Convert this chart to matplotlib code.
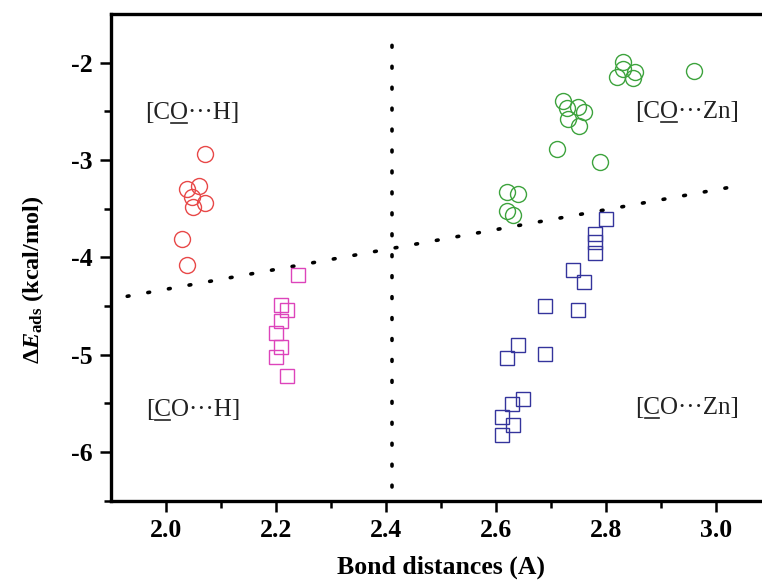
import numpy as np
import matplotlib.pyplot as plt
from matplotlib.lines import Line2D

plt.rcParams['font.family'] = 'Liberation Serif'
plt.rcParams['mathtext.fontset'] = 'custom'
plt.rcParams['mathtext.rm'] = 'Liberation Serif:bold'
plt.rcParams['mathtext.bf'] = 'Liberation Serif:bold'
plt.rcParams['mathtext.it'] = 'Liberation Serif:italic:bold'

# [CO...H], O bonded (red circles)
oh_x = [2.071, 2.038, 2.060, 2.048, 2.071, 2.050, 2.030, 2.039]
oh_y = [-2.94, -3.30, -3.27, -3.38, -3.44, -3.48, -3.81, -4.08]

# [CO...H], C bonded (magenta squares)
ch_x = [2.240, 2.210, 2.221, 2.210, 2.200, 2.210, 2.200, 2.221]
ch_y = [-4.18, -4.49, -4.54, -4.65, -4.78, -4.92, -5.02, -5.22]

# [CO...Zn], O bonded (green circles)
ozn_x = [2.831, 2.820, 2.831, 2.852, 2.850, 2.960, 2.722, 2.729, 2.750,
         2.760, 2.731, 2.751, 2.711, 2.789, 2.620, 2.641, 2.620, 2.632]
ozn_y = [-1.99, -2.15, -2.06, -2.10, -2.16, -2.09, -2.39, -2.47, -2.46,
         -2.51, -2.58, -2.65, -2.89, -3.02, -3.33, -3.35, -3.52, -3.56]

# [CO...Zn], C bonded (blue squares)
czn_x = [2.800, 2.780, 2.780, 2.780, 2.741, 2.760, 2.690, 2.750,
         2.641, 2.620, 2.690, 2.650, 2.629, 2.611, 2.631, 2.611]
czn_y = [-3.61, -3.76, -3.84, -3.96, -4.13, -4.25, -4.50, -4.54,
         -4.90, -5.03, -4.99, -5.46, -5.51, -5.64, -5.72, -5.83]

# dividing guide lines
vline_x = [2.412, 2.412]
vline_y = [-6.36, -1.64]
sline_x = [1.93, 3.04]
sline_y = [-4.40, -3.265]

fig = plt.figure(figsize=(7.62, 5.86), dpi=100)
ax = fig.add_axes([110.7 / 762, 1 - 500.7 / 586, (771 - 110.7) / 762, (500.7 - 14) / 586])

dot = dict(color='black', lw=2.6, linestyle=(0, (0.5, 5.3)), dash_capstyle='round')
ax.plot(vline_x, vline_y, **dot)
ax.plot(sline_x, sline_y, **dot)

ax.plot(oh_x, oh_y, 'o', ms=11.5, mfc='none', mec='#E84848', mew=1.0)
ax.plot(ch_x, ch_y, 's', ms=10, mfc='none', mec='#DD44BB', mew=1.0)
ax.plot(ozn_x, ozn_y, 'o', ms=11.5, mfc='none', mec='#3DA33D', mew=1.0)
ax.plot(czn_x, czn_y, 's', ms=10, mfc='none', mec='#34349C', mew=1.0)

ax.set_xlim(1.9, 3.1)
ax.set_ylim(-6.5, -1.5)
ax.set_xticks([2.0, 2.2, 2.4, 2.6, 2.8, 3.0])
ax.set_xticks(np.arange(2.1, 3.05, 0.2), minor=True)
ax.set_yticks([-6, -5, -4, -3, -2])
ax.set_yticks([-6.5, -5.5, -4.5, -3.5, -2.5], minor=True)
ax.set_yticklabels(['-6', '-5', '-4', '-3', '-2'])

for s in ax.spines.values():
    s.set_linewidth(2.4)
ax.spines['right'].set_visible(False)
ax.tick_params(which='major', length=8, width=1.8, labelsize=18.5, pad=5)
ax.tick_params(which='minor', length=5, width=1.8)
for lab in ax.get_xticklabels() + ax.get_yticklabels():
    lab.set_fontweight('bold')

ax.set_xlabel('Bond distances (A)', fontsize=18.5, fontweight='bold')
ax.xaxis.set_label_coords(0.5, -0.112)
ax.set_ylabel(r'$\Delta E_{\mathrm{ads}}$ (kcal/mol)', fontsize=17.5,
              fontweight='bold', va='center')
ax.yaxis.set_label_coords(-0.118, 0.455)

labels = [
    (2.048, -2.52, '[CO\u00b7\u00b7\u00b7H]', 2),
    (2.948, -2.51, '[CO\u00b7\u00b7\u00b7Zn]', 2),
    (2.050, -5.57, '[CO\u00b7\u00b7\u00b7H]', 1),
    (2.948, -5.55, '[CO\u00b7\u00b7\u00b7Zn]', 1),
]
texts = []
for x, y, s, k in labels:
    t = ax.text(x, y, s, fontsize=18, ha='center', va='center', color='#222222')
    texts.append((t, s, k))

# underline the bonded atom
fig.canvas.draw()
r = fig.canvas.get_renderer()
for t, s, k in texts:
    bb = t.get_window_extent(r)
    prop = t.get_fontproperties()
    w0, _, _ = r.get_text_width_height_descent(s[:k], prop, ismath=False)
    w1, _, _ = r.get_text_width_height_descent(s[:k + 1], prop, ismath=False)
    _, _, d = r.get_text_width_height_descent(s, prop, ismath=False)
    yb = bb.y0 + d - 3
    p0 = fig.transFigure.inverted().transform((bb.x0 + w0 + 1, yb))
    p1 = fig.transFigure.inverted().transform((bb.x0 + w1 - 1, yb))
    fig.add_artist(Line2D([p0[0], p1[0]], [p0[1], p1[1]], color='#222222', lw=1.2))

fig.savefig('out.png', dpi=100)
